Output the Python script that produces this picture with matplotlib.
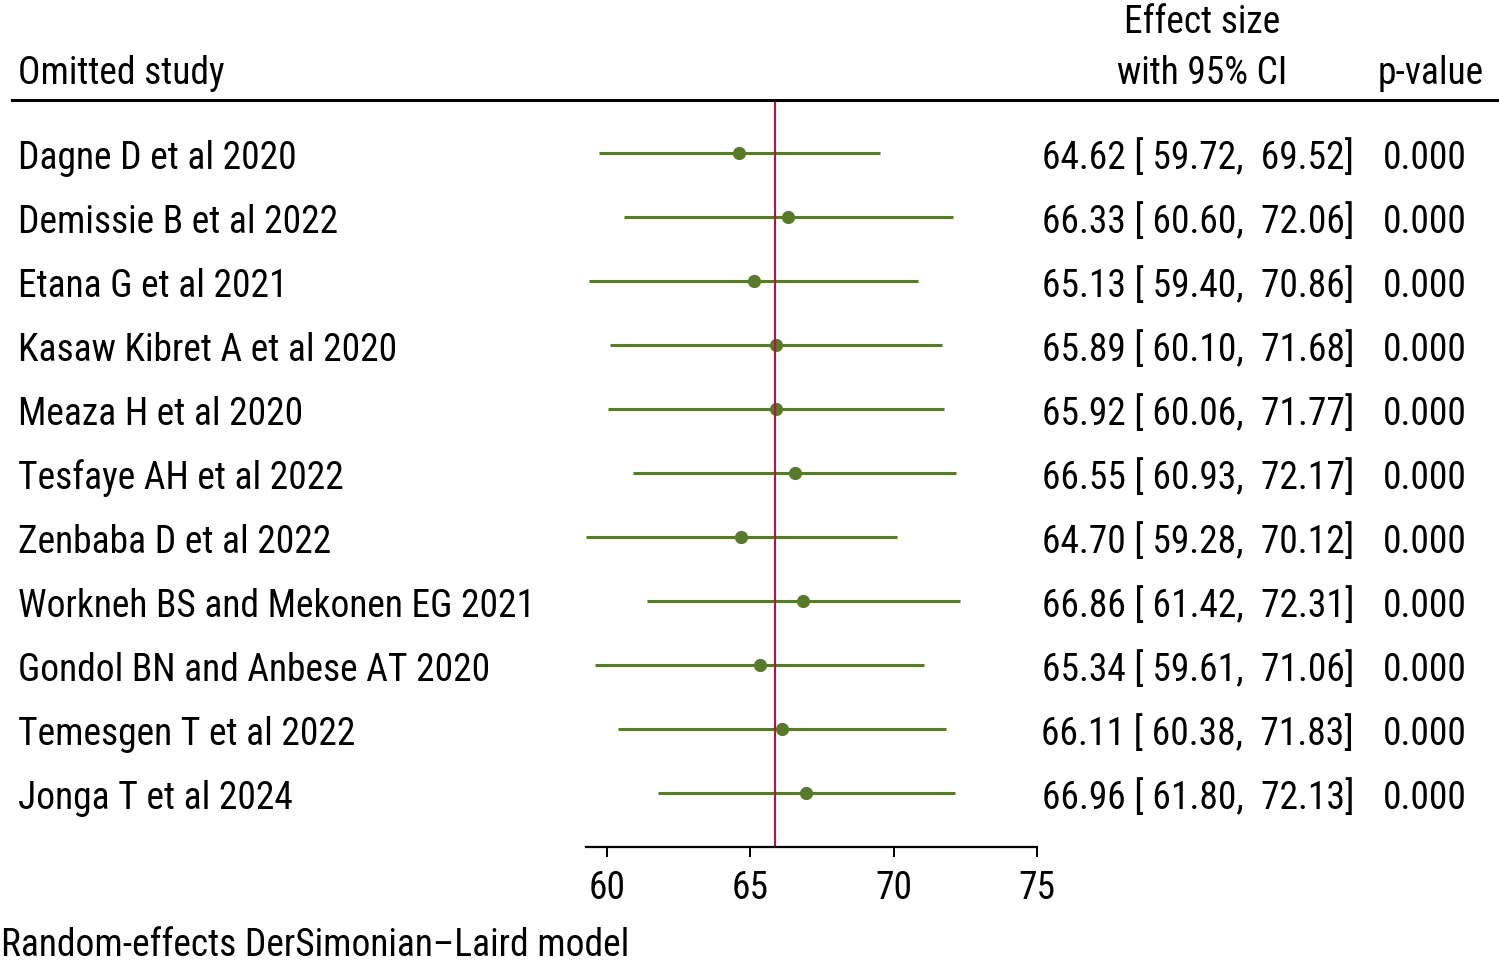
import matplotlib
matplotlib.use("Agg")
import matplotlib.pyplot as plt
from matplotlib import font_manager

# studies left out one at a time
studies = ["Dagne D et al 2020", "Demissie B et al 2022", "Etana G et al 2021",
           "Kasaw Kibret A et al 2020", "Meaza H et al 2020", "Tesfaye AH et al 2022",
           "Zenbaba D et al 2022", "Workneh BS and Mekonen EG 2021",
           "Gondol BN and Anbese AT 2020", "Temesgen T et al 2022", "Jonga T et al 2024"]
est = [64.62, 66.33, 65.13, 65.89, 65.92, 66.55, 64.70, 66.86, 65.34, 66.11, 66.96]
lo = [59.72, 60.60, 59.40, 60.10, 60.06, 60.93, 59.28, 61.42, 59.61, 60.38, 61.80]
hi = [69.52, 72.06, 70.86, 71.68, 71.77, 72.17, 70.12, 72.31, 71.06, 71.83, 72.13]
pval = ["0.000"] * len(studies)
overall = 65.87
xticks = [60, 65, 70, 75]

# a narrow sans like the original, if one is around
names = {f.name for f in font_manager.fontManager.ttflist}
cands = ["Arial Narrow", "Liberation Sans Narrow", "Nimbus Sans Narrow", "Roboto Condensed",
         "Archivo Narrow", "PT Sans Narrow", "Fira Sans Condensed", "IBM Plex Sans Condensed"]
fam = [c for c in cands if c in names][:1]
plt.rcParams['font.family'] = fam + ["Liberation Sans", "DejaVu Sans"]

W, H = 1499, 966
fig = plt.figure(figsize=(W / 100, H / 100), dpi=100)

def fx(px):
    return px / W

def fy(py):
    return 1 - py / H

# pick the size so the first label is as wide as in the original
t = fig.text(0, 0, studies[0], fontsize=29)
w = t.get_window_extent(fig.canvas.get_renderer()).width
t.remove()
fs = min(31, 29 * 279 / w)

green = "#587a2b"
red = "#b3173d"

ax = fig.add_axes([fx(586), fy(847), fx(1037) - fx(586), fy(100) - fy(847)])
n = len(studies)
ypos = list(range(n))
ax.hlines(ypos, lo, hi, color=green, lw=2.2)
ax.plot(est, ypos, "o", color=green, ms=8.5)
ax.axvline(overall, color=red, lw=1.5)
ax.set_xlim(min(lo), 75)
ax.set_ylim(n - 1 + 53 / 64 + 0.01, -53 / 64)
for s in ["top", "left", "right"]:
    ax.spines[s].set_visible(False)
ax.spines["bottom"].set_linewidth(1.6)
ax.set_yticks([])
ax.set_xticks(xticks)
ax.tick_params(axis="x", length=7.5, width=1.4, labelsize=fs, pad=9)
ax.patch.set_visible(False)

# header
fig.text(fx(18), fy(84), "Omitted study", fontsize=fs, va="baseline", ha="left")
fig.text(fx(1202), fy(33), "Effect size", fontsize=fs, va="baseline", ha="center")
fig.text(fx(1202), fy(84), "with 95% CI", fontsize=fs, va="baseline", ha="center")
fig.text(fx(1484), fy(84), "p-value", fontsize=fs, va="baseline", ha="right")
fig.add_artist(plt.Line2D([fx(12), fx(1497)], [fy(100), fy(100)], color="black", lw=2.2))

for i in range(n):
    yy = fy(153 + 64 * i + 16)
    fig.text(fx(18), yy, studies[i], fontsize=fs, va="baseline", ha="left")
    fig.text(fx(1354), yy, f"{est[i]:.2f} [ {lo[i]:.2f},  {hi[i]:.2f}]",
             fontsize=fs, va="baseline", ha="right")
    fig.text(fx(1467), yy, pval[i], fontsize=fs, va="baseline", ha="right")

fig.text(fx(1), fy(956), "Random-effects DerSimonian\u2013Laird model", fontsize=fs,
         va="baseline", ha="left")

fig.savefig("out.png", dpi=100)
